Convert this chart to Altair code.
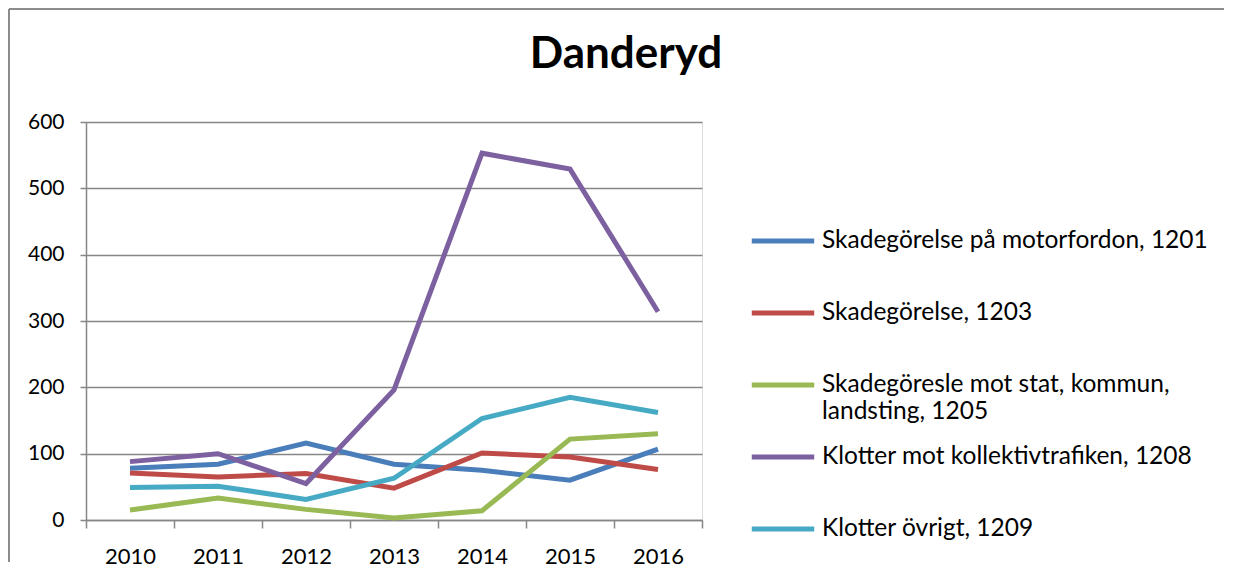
import altair as alt
import pandas as pd

years = [2010, 2011, 2012, 2013, 2014, 2015, 2016]
series = [
    "Skadegörelse på motorfordon, 1201",
    "Skadegörelse, 1203",
    "Skadegöresle mot stat, kommun, landsting, 1205",
    "Klotter mot kollektivtrafiken, 1208",
    "Klotter övrigt, 1209",
]
v1201 = [78, 84, 116, 84, 75, 60, 107]
v1203 = [71, 65, 70, 48, 101, 95, 76]
v1205 = [15, 33, 16, 3, 14, 122, 130]
v1208 = [88, 100, 55, 196, 553, 529, 314]
v1209 = [49, 51, 31, 63, 153, 185, 162]
colors = ["#4A7EBB", "#BE4B48", "#98B954", "#7D60A0", "#46AAC5"]
y_ticks = [0, 100, 200, 300, 400, 500, 600]
x_ticks = [2009.5, 2010.5, 2011.5, 2012.5, 2013.5, 2014.5, 2015.5, 2016.5]

rows = []
for name, vals in zip(series, [v1201, v1203, v1205, v1208, v1209]):
    for yr, v in zip(years, vals):
        rows.append({"year": yr, "value": v, "series": name})
df = pd.DataFrame(rows)

FONT = "Lato"

lines = alt.Chart(df).mark_line(strokeWidth=5, strokeCap="butt", strokeJoin="miter").encode(
    x=alt.X("year:Q",
            scale=alt.Scale(domain=[2009.5, 2016.5], nice=False, zero=False),
            axis=alt.Axis(values=x_ticks, title=None, grid=False,
                          labelExpr="datum.value < 2016 ? format(datum.value + 0.5, 'd') : ''",
                          labelOffset=44, labelFontSize=22, labelColor="#000000",
                          labelFlush=False, labelOverlap=False,
                          labelPadding=18, tickSize=8, tickColor="#868686",
                          domainColor="#868686", domainWidth=1.5, tickWidth=1.5,
                          labelFont=FONT)),
    y=alt.Y("value:Q",
            scale=alt.Scale(domain=[0, 600], nice=False),
            axis=alt.Axis(values=y_ticks, title=None, grid=True, gridColor="#868686",
                          gridWidth=1.5, labelFontSize=21, labelColor="#000000",
                          labelPadding=16, tickSize=6, tickColor="#868686", tickWidth=1.5,
                          domainColor="#868686", domainWidth=1.5, labelFont=FONT)),
    color=alt.Color("series:N",
                    scale=alt.Scale(domain=series, range=colors),
                    legend=alt.Legend(
                        title=None, orient="none", legendX=663, legendY=85,
                        symbolType="stroke", symbolSize=3900, symbolStrokeWidth=5,
                        labelFontSize=24.5, labelFont=FONT, labelColor="#000000",
                        labelLimit=700, labelOffset=5, rowPadding=-2.7, gridAlign="all",
                        labelExpr="datum.label == 'Skadegöresle mot stat, kommun, landsting, 1205' ? ['Skadegöresle mot stat, kommun,', 'landsting, 1205'] : datum.label",
                    )),
)

one = alt.Data(values=[{"k": 1}])
frame_top = alt.Chart(one).mark_rule(stroke="#8C8C8C", strokeWidth=2).encode(
    x=alt.value(-77), x2=alt.value(1138), y=alt.value(-113)
)
frame_left = alt.Chart(one).mark_rule(stroke="#8C8C8C", strokeWidth=2).encode(
    x=alt.value(-77), y=alt.value(-113), y2=alt.value(440)
)

chart = alt.layer(frame_top, frame_left, lines).properties(
    width=616,
    height=398,
    title=alt.TitleParams("Danderyd", fontSize=44, font=FONT, fontWeight="bold",
                          color="#000000", dx=232, offset=-69, anchor="middle"),
    autosize=alt.AutoSizeParams(type="none"),
    padding={"left": 78, "top": 114, "right": 529, "bottom": 50},
).configure_view(stroke=None).configure(background="#ffffff")

chart.save("out.html", embed_options={"renderer": "svg", "actions": False})
